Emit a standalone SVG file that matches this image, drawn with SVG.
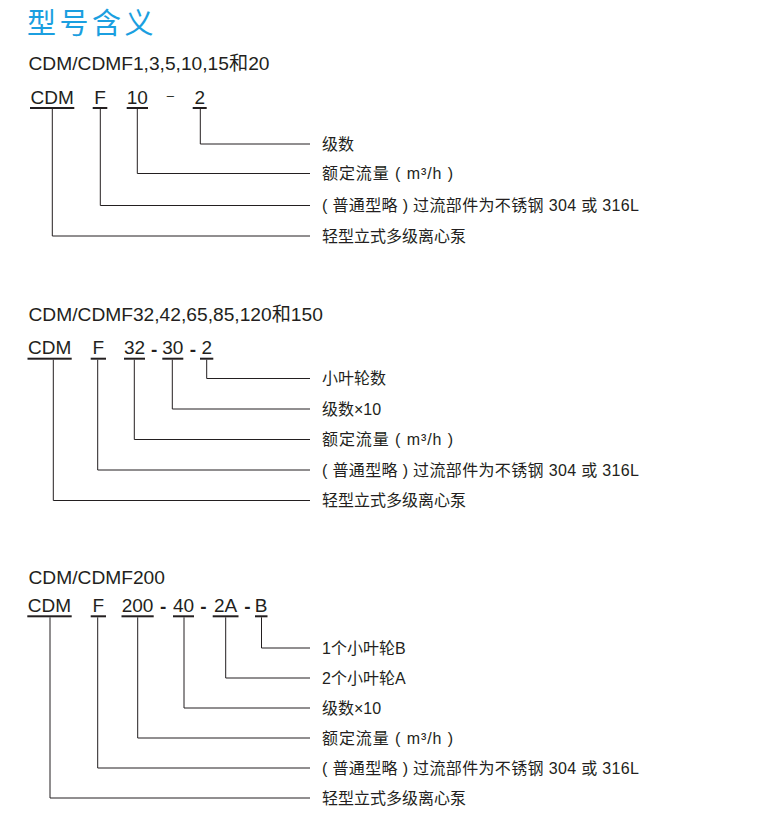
<svg xmlns="http://www.w3.org/2000/svg" width="766" height="816" viewBox="0 0 766 816">
<style>
.title{font-family:"Noto Sans CJK SC",sans-serif;font-size:29px;fill:#1b9fe0;letter-spacing:3.5px}
.hdr{font-family:"Liberation Sans","Noto Sans CJK SC",sans-serif;font-size:19.2px;fill:#231f20}
.code{font-family:"Liberation Sans",sans-serif;font-size:19px;fill:#231f20;text-anchor:middle}
.hy{font-family:"Liberation Sans",sans-serif;font-size:19px;font-weight:bold;fill:#231f20;text-anchor:middle}
.en{font-family:"Liberation Sans",sans-serif;font-size:13px;fill:#231f20;text-anchor:middle}
.lbl{font-family:"Liberation Sans","Noto Sans CJK SC",sans-serif;font-size:16px;fill:#231f20}
.ul{fill:#231f20}
.con path{fill:none;stroke:#231f20;stroke-width:1}
</style>
<rect width="766" height="816" fill="#ffffff"/>
<text class="title" x="27" y="33.6">型号含义</text>

<!-- Section 1 -->
<g id="sec1">
<text class="hdr" x="28.5" y="70">CDM/CDMF1,3,5,10,15和20</text>
<g id="s1-cdm"><text class="code" x="52.2" y="103.5">CDM</text><rect class="ul" x="30" y="107" width="44.3" height="2"/></g>
<g id="s1-f"><text class="code" x="100" y="103.5">F</text><rect class="ul" x="92.7" y="107" width="14.6" height="2"/></g>
<g id="s1-10"><text class="code" x="137.3" y="103.5">10</text><rect class="ul" x="126.7" y="107" width="21.3" height="2"/></g>
<text class="en" x="170.3" y="100.2">–</text>
<g id="s1-2"><text class="code" x="199.7" y="103.5">2</text><rect class="ul" x="192.7" y="107" width="14" height="2"/></g>
<g id="s1-l1"><text class="lbl" x="322" y="149.5">级数</text></g>
<g id="s1-l2"><text class="lbl" x="322" y="179" textLength="131" lengthAdjust="spacing">额定流量 ( m³/h )</text></g>
<g id="s1-l3"><text class="lbl" x="322" y="211" textLength="317" lengthAdjust="spacing">( 普通型略 ) 过流部件为不锈钢 304 或 316L</text></g>
<g id="s1-l4"><text class="lbl" x="322" y="241.5">轻型立式多级离心泵</text></g>
</g>

<!-- Section 2 -->
<g id="sec2">
<text class="hdr" x="28.5" y="321">CDM/CDMF32,42,65,85,120和150</text>
<g id="s2-cdm"><text class="code" x="49.6" y="354">CDM</text><rect class="ul" x="27.5" y="357.7" width="44.2" height="2"/></g>
<g id="s2-f"><text class="code" x="98.3" y="354">F</text><rect class="ul" x="90.7" y="357.7" width="15.3" height="2"/></g>
<g id="s2-32"><text class="code" x="134.5" y="354">32</text><rect class="ul" x="124" y="357.7" width="21" height="2"/></g>
<text class="hy" x="154.2" y="355.7">-</text>
<g id="s2-30"><text class="code" x="172.8" y="354">30</text><rect class="ul" x="162.3" y="357.7" width="21" height="2"/></g>
<text class="hy" x="192.9" y="355.7">-</text>
<g id="s2-2"><text class="code" x="206.7" y="354">2</text><rect class="ul" x="200" y="357.7" width="13.3" height="2"/></g>
<g id="s2-l1"><text class="lbl" x="322" y="384">小叶轮数</text></g>
<g id="s2-l2"><text class="lbl" x="322" y="414.5">级数×10</text></g>
<g id="s2-l3"><text class="lbl" x="322" y="445" textLength="131" lengthAdjust="spacing">额定流量 ( m³/h )</text></g>
<g id="s2-l4"><text class="lbl" x="322" y="475.5" textLength="317" lengthAdjust="spacing">( 普通型略 ) 过流部件为不锈钢 304 或 316L</text></g>
<g id="s2-l5"><text class="lbl" x="322" y="506">轻型立式多级离心泵</text></g>
</g>

<!-- Section 3 -->
<g id="sec3">
<text class="hdr" x="28.5" y="584.3">CDM/CDMF200</text>
<g id="s3-cdm"><text class="code" x="49.5" y="611.8">CDM</text><rect class="ul" x="27.3" y="615.3" width="44.4" height="2"/></g>
<g id="s3-f"><text class="code" x="98.3" y="611.8">F</text><rect class="ul" x="90.7" y="615.3" width="15.3" height="2"/></g>
<g id="s3-200"><text class="code" x="137.6" y="611.8">200</text><rect class="ul" x="121.5" y="615.3" width="32.2" height="2"/></g>
<text class="hy" x="163.2" y="612.7">-</text>
<g id="s3-40"><text class="code" x="183.5" y="611.8">40</text><rect class="ul" x="173" y="615.3" width="21" height="2"/></g>
<text class="hy" x="203.3" y="612.7">-</text>
<g id="s3-2a"><text class="code" x="225.6" y="611.8">2A</text><rect class="ul" x="212.7" y="615.3" width="25.8" height="2"/></g>
<text class="hy" x="247.5" y="612.7">-</text>
<g id="s3-b"><text class="code" x="261.2" y="611.8">B</text><rect class="ul" x="255" y="615.3" width="12.5" height="2"/></g>
<g id="s3-l1"><text class="lbl" x="322" y="653.5">1个小叶轮B</text></g>
<g id="s3-l2"><text class="lbl" x="322" y="683.5">2个小叶轮A</text></g>
<g id="s3-l3"><text class="lbl" x="322" y="713.5">级数×10</text></g>
<g id="s3-l4"><text class="lbl" x="322" y="743.5" textLength="131" lengthAdjust="spacing">额定流量 ( m³/h )</text></g>
<g id="s3-l5"><text class="lbl" x="322" y="773.5" textLength="317" lengthAdjust="spacing">( 普通型略 ) 过流部件为不锈钢 304 或 316L</text></g>
<g id="s3-l6"><text class="lbl" x="322" y="803.5">轻型立式多级离心泵</text></g>
</g>

<g id="connectors" class="con">
<path d="M200.3 109V144H310"/>
<path d="M137.3 109V173.5H310"/>
<path d="M100.3 109V205.5H310"/>
<path d="M52.3 109V236H310"/>

<path d="M206.7 359.7V378.5H310"/>
<path d="M172.3 359.7V409H310"/>
<path d="M134.3 359.7V439.5H310"/>
<path d="M97.7 359.7V470H310"/>
<path d="M53.3 359.7V500.5H310"/>

<path d="M261.5 617.3V648H310"/>
<path d="M225.7 617.3V678H310"/>
<path d="M184 617.3V708H310"/>
<path d="M137.7 617.3V738H310"/>
<path d="M97.7 617.3V768H310"/>
<path d="M50 617.3V798H310"/>
</g>
</svg>
